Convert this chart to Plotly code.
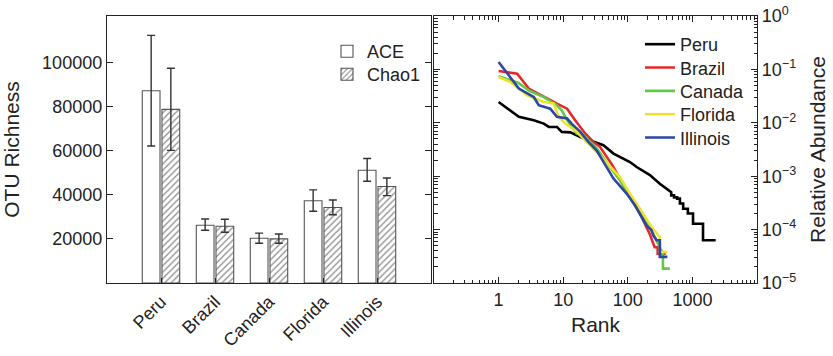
import plotly.graph_objects as go

# ---------------- data ----------------
sites = ["Peru", "Brazil", "Canada", "Florida", "Illinois"]

ace = [87150, 26200, 20300, 37300, 51100]
ace_hi = [112200, 29000, 22600, 42200, 56400]
ace_lo = [62100, 23900, 18000, 32500, 46100]

chao1 = [78700, 25700, 20000, 34200, 43700]
chao1_hi = [97300, 28900, 22200, 37600, 47600]
chao1_lo = [60100, 23000, 18000, 30900, 39600]

y_tick_vals = [20000, 40000, 60000, 80000, 100000]

peru_rank = [1, 2.06, 3.5, 5, 6, 8, 9.5, 12.9, 18.4, 29.4, 42, 60, 108, 137, 220, 313, 421,
             470, 470, 520, 520, 580, 580, 640, 640, 720, 720, 850, 850, 1023, 1023, 1460, 1460, 2290]
peru_ab = [0.0245, 0.0129, 0.01114, 0.00966, 0.00836, 0.00836, 0.00676, 0.00661, 0.00543, 0.00447,
           0.0038, 0.00265, 0.001845, 0.001486, 0.001047, 0.000724, 0.000545,
           0.000501, 0.000437, 0.000437, 0.000401, 0.000401, 0.00038, 0.00038, 0.000309, 0.000309,
           0.000245, 0.000245, 0.0002, 0.0002, 0.000129, 0.000129, 0.000063, 0.000063]

brazil_rank = [1, 1.94, 2.93, 5, 8, 11.5, 12.9, 15.3, 21.9, 29.4, 37, 56, 76, 108, 154, 218, 260,
               290, 290, 387]
brazil_ab = [0.0933, 0.0832, 0.0437, 0.0304, 0.0229, 0.0184, 0.0148, 0.0112, 0.0063, 0.00437,
             0.00355, 0.0017, 0.00089, 0.000407, 0.0002, 0.0000832, 0.0000468,
             0.0000468, 0.0000355, 0.0000355]

canada_rank = [1, 2, 3, 5, 8, 9.5, 11.5, 16.2, 20.6, 33, 53, 76, 108, 154, 218, 276, 350, 350, 447]
canada_ab = [0.0741, 0.0562, 0.0398, 0.0302, 0.0213, 0.0171, 0.0112, 0.0063, 0.00589, 0.00331,
             0.00148, 0.00083, 0.000407, 0.000229, 0.000112, 0.000063, 0.0000355, 0.0000186,
             0.0000186]

florida_rank = [1, 1.53, 2.77, 5, 7.1, 8.5, 10.8, 15.3, 23.2, 37, 76, 108, 154, 234, 314, 314, 410]
florida_ab = [0.0721, 0.058, 0.0327, 0.0245, 0.0229, 0.0129, 0.00966, 0.00724, 0.00437, 0.00245,
              0.00095, 0.000468, 0.000245, 0.000112, 0.0000724, 0.000038, 0.000038]

illinois_rank = [1, 2.06, 3.5, 4.18, 6.3, 8, 11.5, 13.6, 18.4, 24.5, 33, 60, 96, 129, 164, 195,
                 233, 248, 279, 313, 313, 410]
illinois_ab = [0.1377, 0.0437, 0.0304, 0.0213, 0.0184, 0.0129, 0.012, 0.00955, 0.00676, 0.00437,
               0.00302, 0.000902, 0.000472, 0.000285, 0.000172, 0.00012, 0.0000977, 0.000078,
               0.000063, 0.000063, 0.0000309, 0.0000309]

rank_tick_vals = [1, 10, 100, 1000]
rank_tick_text = ["1", "10", "100", "1000"]
ab_tick_vals = [1, 0.1, 0.01, 0.001, 0.0001, 0.00001]
ab_tick_text = ["10<sup>0</sup>", "10<sup>\u22121</sup>", "10<sup>\u22122</sup>",
                "10<sup>\u22123</sup>", "10<sup>\u22124</sup>", "10<sup>\u22125</sup>"]

# ---------------- figure ----------------
FONT = "Liberation Sans, Arial, Helvetica, sans-serif"
AX = "#222222"
W, H = 833, 356
ML, MR, MT, MB = 107, 76, 16, 73
PW = W - ML - MR
PH = H - MT - MB

def px_x(page_x):
    return (page_x - ML) / PW

def px_y(page_y):
    return (H - MB - page_y) / PH

fig = go.Figure()

def errs(vals, hi, lo):
    return dict(type="data", symmetric=False,
                array=[h - v for h, v in zip(hi, vals)],
                arrayminus=[v - l for l, v in zip(lo, vals)],
                color="#333333", thickness=1.4, width=4)

legfont = dict(family=FONT, size=18, color="#222")
legends = {}

def legend_at(key, page_x, row_center_y):
    legends[key] = dict(x=px_x(page_x), y=px_y(row_center_y - 19), xanchor="left", yanchor="top",
                        bgcolor="rgba(0,0,0,0)", font=legfont, tracegroupgap=0, visible=True)
    return key

fig.add_trace(go.Bar(
    x=sites, y=ace, name="ACE", xaxis="x", yaxis="y", showlegend=True,
    legend=legend_at("legend", 327, 52),
    marker=dict(color="white", line=dict(color="#555555", width=1.1)),
    error_y=errs(ace, ace_hi, ace_lo)))
fig.add_trace(go.Bar(
    x=sites, y=chao1, name="Chao1", xaxis="x", yaxis="y", showlegend=True,
    legend=legend_at("legend2", 327, 75),
    marker=dict(color="white", line=dict(color="#555555", width=1.1),
                pattern=dict(shape="/", fgcolor="#222222", bgcolor="white", size=4.5, solidity=0.3)),
    error_y=errs(chao1, chao1_hi, chao1_lo)))

line_series = [
    ("Peru", peru_rank, peru_ab, "#000000"),
    ("Brazil", brazil_rank, brazil_ab, "#E42A26"),
    ("Canada", canada_rank, canada_ab, "#63C74A"),
    ("Florida", florida_rank, florida_ab, "#F0E22C"),
    ("Illinois", illinois_rank, illinois_ab, "#2B46A5"),
]
row_centers = [45, 68.3, 91.7, 115, 138.3]
for i, ((name, xs, ys, col), cy) in enumerate(zip(line_series, row_centers)):
    fig.add_trace(go.Scatter(
        x=xs, y=ys, name=name, mode="lines", xaxis="x2", yaxis="y2", showlegend=True,
        legend=legend_at(f"legend{i + 3}", 640, cy),
        line=dict(color=col, width=2.6)))

tickfont = dict(family=FONT, size=18, color="#222")
titlefont = dict(family=FONT, size=21, color="#222")

fig.update_layout(
    width=W, height=H, showlegend=True, hovermode=False,
    margin=dict(l=ML, r=MR, t=MT, b=MB, autoexpand=False),
    paper_bgcolor="white", plot_bgcolor="white",
    font=dict(family=FONT, size=18, color="#222"),
    barmode="group", bargap=0.27, bargroupgap=0.1,
    xaxis=dict(domain=[0, px_x(431)], range=[-1, 5], type="category",
               showline=True, linecolor=AX, linewidth=1.2, mirror=True,
               ticks="inside", ticklen=5, tickcolor=AX, tickangle=-45,
               tickfont=tickfont, showgrid=False, zeroline=False),
    yaxis=dict(anchor="x", range=[0, 121000], tickvals=y_tick_vals, tickformat="d",
               showline=True, linecolor=AX, linewidth=1.2, mirror="ticks",
               ticks="inside", ticklen=6, tickcolor=AX, tickfont=tickfont,
               showgrid=False, zeroline=False,
               title=dict(text="OTU Richness", font=titlefont, standoff=20)),
    xaxis2=dict(domain=[px_x(434), 1], type="log", range=[-1, 4], anchor="y2",
                tickvals=rank_tick_vals, ticktext=rank_tick_text,
                showline=True, linecolor=AX, linewidth=1.2, mirror="allticks",
                ticks="inside", ticklen=6, tickcolor=AX, tickfont=tickfont,
                minor=dict(ticks="inside", ticklen=3.5, tickcolor=AX, dtick="D1", showgrid=False),
                showgrid=False, zeroline=False,
                title=dict(text="Rank", font=titlefont, standoff=8)),
    yaxis2=dict(anchor="x2", type="log", range=[-5, 0], side="right",
                tickvals=ab_tick_vals, ticktext=ab_tick_text, ticklabeloverflow="allow",
                showline=True, linecolor=AX, linewidth=1.2, mirror="allticks",
                ticks="inside", ticklen=6, tickcolor=AX, tickfont=tickfont,
                minor=dict(ticks="inside", ticklen=3.5, tickcolor=AX, dtick="D1", showgrid=False),
                showgrid=False, zeroline=False,
                title=dict(text="Relative Abundance", font=titlefont, standoff=15)),
    **legends,
)

# remove the page's default 8px body margin so the figure sits at the window origin
fig.write_html("out.html", config={"displayModeBar": False, "staticPlot": True},
               post_script="document.body.style.margin='0px';")
